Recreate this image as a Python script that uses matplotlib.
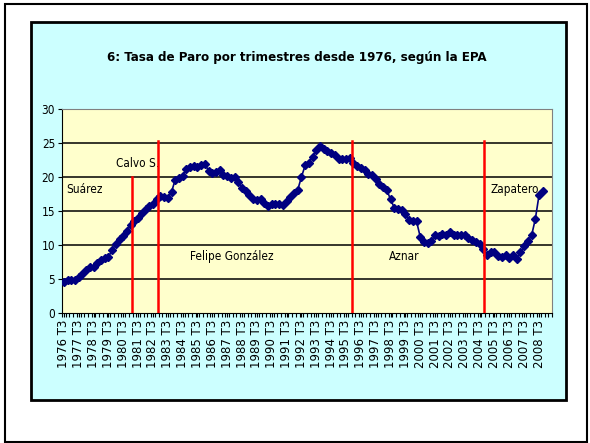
import matplotlib.pyplot as plt
from matplotlib.patches import Rectangle

# Tasa de paro EPA, trimestral desde 1976 T3
paro = [4.6, 4.9, 4.8, 4.9, 5.3, 5.7, 6.3, 6.7, 6.8, 7.3,
        7.8, 8.1, 8.3, 9.2, 10.2, 10.9, 11.3, 12.0, 13.0, 13.6,
        13.9, 14.7, 15.3, 15.7, 16.1, 16.8, 17.2, 17.0, 16.9, 17.8,
        19.6, 19.8, 20.2, 21.2, 21.5, 21.6, 21.5, 21.7, 21.9, 20.9,
        20.6, 20.8, 21.0, 20.3, 20.1, 19.9, 20.0, 19.3, 18.4, 18.0,
        17.3, 16.7, 16.6, 16.8, 16.2, 15.8, 16.1, 16.0, 16.1, 15.9,
        16.5, 17.0, 17.6, 18.1, 20.0, 21.7, 22.1, 23.0, 24.0, 24.6,
        24.1, 23.8, 23.5, 23.2, 22.6, 22.6, 22.7, 22.8, 22.0, 21.6,
        21.3, 21.0, 20.5, 20.3, 19.7, 19.0, 18.5, 18.1, 16.7, 15.5,
        15.3, 15.2, 14.6, 13.7, 13.6, 13.5, 11.2, 10.5, 10.3, 10.6,
        11.5, 11.3, 11.6, 11.5, 11.9, 11.5, 11.4, 11.4, 11.5, 11.0,
        10.8, 10.5, 10.2, 9.4, 8.5, 8.9, 9.0, 8.4, 8.2, 8.5,
        8.1, 8.5, 8.0, 8.9, 9.8, 10.6, 11.4, 13.8, 17.3, 18.0]
n_cat = 132
anios = list(range(1976, 2009))
etiquetas = [str(a) + ' T3' for a in anios]

# cambios de gobierno (posicion en trimestres desde 1976 T3) y altura de la linea
cambios = [18.4, 25.4, 77.6, 113.1]
alturas = [20, 25.3, 25.3, 25.3]
presidentes = ['Suárez', 'Calvo S.', 'Felipe González', 'Aznar', 'Zapatero']
pres_x = [0.6, 14.1, 34.0, 87.7, 115.0]
pres_y = [18.2, 22.0, 8.3, 8.3, 18.2]

cond = dict(family='DejaVu Sans', stretch='condensed')

fig = plt.figure(figsize=(5.9, 4.43), dpi=100)
fig.patches.append(Rectangle((5 / 590, 1 / 443), 582 / 590, 438 / 443,
                             transform=fig.transFigure, fill=False,
                             edgecolor='black', lw=1.5, zorder=-2))
fig.patches.append(Rectangle((31 / 590, 43 / 443), 535 / 590, 378 / 443,
                             transform=fig.transFigure, facecolor='#CCFFFF',
                             edgecolor='black', lw=2, zorder=-1))

ax = fig.add_axes([62 / 590, 130 / 443, 490 / 590, 204 / 443])
ax.set_facecolor('#FFFFCC')
x = list(range(len(paro)))
ax.plot(x, paro, color='#000080', lw=1.2, marker='D', markersize=4.5, zorder=3)
for c, h in zip(cambios, alturas):
    ax.plot([c, c], [0, h], color='#FF0000', lw=1.8, zorder=4)
for t, px, py in zip(presidentes, pres_x, pres_y):
    ax.text(px, py, t, fontsize=8.5, va='center', ha='left', **cond)

ax.set_xlim(-0.5, n_cat - 0.5)
ax.set_ylim(0, 30)
ax.set_yticks(range(0, 31, 5))
ax.set_yticklabels([str(v) for v in range(0, 31, 5)], fontsize=8.5, **cond)
for v in range(5, 30, 5):
    ax.axhline(v, color='black', lw=1.1, zorder=1)

ax.set_xticks(range(0, 4 * len(anios), 4))
ax.set_xticklabels(etiquetas, rotation=90, fontsize=8.5, family='DejaVu Sans')
ax.set_xticks([i - 0.5 for i in range(n_cat + 1)], minor=True)
ax.tick_params(axis='x', which='both', length=3, width=0.8, pad=2)
ax.tick_params(axis='y', length=3, width=0.8, pad=2)
for s in ['top', 'right']:
    ax.spines[s].set_color('#808080')
ax.spines['left'].set_color('black')
ax.spines['bottom'].set_color('black')

fig.text(297 / 590, 1 - 57 / 443, '6: Tasa de Paro por trimestres desde 1976, según la EPA',
         fontsize=9.5, fontweight='bold', ha='center', va='center', **cond)

fig.savefig('out.png', dpi=100)
